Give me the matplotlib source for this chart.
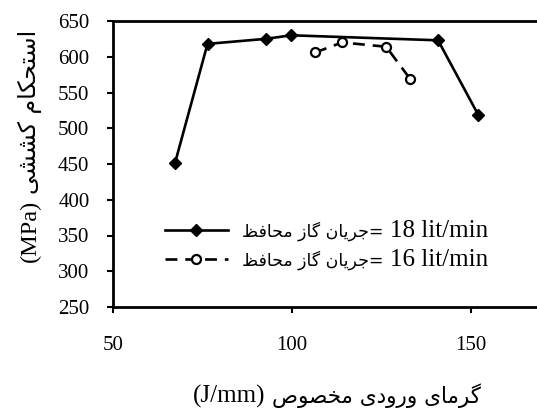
import matplotlib
matplotlib.use('Agg')
import matplotlib.pyplot as plt

###### datos
heat_18 = [67.3, 76.4, 92.6, 99.8, 140.8, 152.0]
tens_18 = [451, 618, 625, 630, 623, 519]
heat_16 = [106.5, 114.0, 126.3, 133.0]
tens_16 = [606, 620, 614, 569]
xticks = [50, 100, 150]
yticks = [250, 300, 350, 400, 450, 500, 550, 600, 650]

###### textos persas
txt_y = 'استحکام کششی'
txt_x = 'گرمای ورودی مخصوص'
txt_leg = 'جریان گاز محافظ'
flows = ['18 lit/min', '16 lit/min']

###### formas de presentacion (isolada, final, inicial, media)
FORMS = {
    'ا': ('\uFE8D', '\uFE8E', None, None),
    'ب': ('\uFE8F', '\uFE90', '\uFE91', '\uFE92'),
    'ت': ('\uFE95', '\uFE96', '\uFE97', '\uFE98'),
    'ج': ('\uFE9D', '\uFE9E', '\uFE9F', '\uFEA0'),
    'ح': ('\uFEA1', '\uFEA2', '\uFEA3', '\uFEA4'),
    'خ': ('\uFEA5', '\uFEA6', '\uFEA7', '\uFEA8'),
    'د': ('\uFEA9', '\uFEAA', None, None),
    'ر': ('\uFEAD', '\uFEAE', None, None),
    'ز': ('\uFEAF', '\uFEB0', None, None),
    'س': ('\uFEB1', '\uFEB2', '\uFEB3', '\uFEB4'),
    'ش': ('\uFEB5', '\uFEB6', '\uFEB7', '\uFEB8'),
    'ص': ('\uFEB9', '\uFEBA', '\uFEBB', '\uFEBC'),
    'ظ': ('\uFEC5', '\uFEC6', '\uFEC7', '\uFEC8'),
    'ف': ('\uFED1', '\uFED2', '\uFED3', '\uFED4'),
    'ل': ('\uFEDD', '\uFEDE', '\uFEDF', '\uFEE0'),
    'م': ('\uFEE1', '\uFEE2', '\uFEE3', '\uFEE4'),
    'ن': ('\uFEE5', '\uFEE6', '\uFEE7', '\uFEE8'),
    'و': ('\uFEED', '\uFEEE', None, None),
    'ی': ('\uFBFC', '\uFBFD', '\uFBFE', '\uFBFF'),
    'ک': ('\uFB8E', '\uFB8F', '\uFB90', '\uFB91'),
    'گ': ('\uFB92', '\uFB93', '\uFB94', '\uFB95'),
}


def farsi(s):
    # forma visual (de izquierda a derecha) del texto persa
    out = []
    for i, c in enumerate(s):
        if c not in FORMS:
            out.append(c)
            continue
        prev = s[i - 1] if i > 0 else ''
        nxt = s[i + 1] if i + 1 < len(s) else ''
        join_prev = prev in FORMS and FORMS[prev][2] is not None
        join_next = nxt in FORMS and FORMS[c][2] is not None
        f = FORMS[c]
        if join_prev and join_next:
            out.append(f[3])
        elif join_prev:
            out.append(f[1])
        elif join_next:
            out.append(f[2])
        else:
            out.append(f[0])
    return ''.join(out)[::-1]


plt.rcParams['font.family'] = ['Liberation Serif', 'DejaVu Sans']
plt.rcParams['font.size'] = 15

W, H = 537, 408
fig = plt.figure(figsize=(W / 100, H / 100), dpi=100)
ax = fig.add_axes([113 / W, 1 - 307 / H, 429.6 / W, 286 / H])

ax.plot(heat_18, tens_18, color='black', lw=1.9, marker='D', ms=6,
        label=farsi(txt_leg) + '=')
ax.plot(heat_16, tens_16, color='black', lw=1.9, ls=(0, (4.5, 3)),
        marker='o', ms=6.5, mfc='white', mew=1.6,
        label=farsi(txt_leg) + '=')

ax.set_xlim(50, 170)
ax.set_ylim(250, 650)
ax.set_xticks(xticks)
ax.set_yticks(yticks)
ax.tick_params(direction='out', length=4, width=1.5, pad=13)
ax.tick_params(axis='x', pad=17)
for s in ['left', 'bottom', 'top']:
    ax.spines[s].set_linewidth(2)
ax.spines['right'].set_visible(False)

###### leyenda: parte persa en la leyenda, caudal al lado
leg = ax.legend(loc='upper left', bbox_to_anchor=(165 / W, 1 - 221 / H),
                bbox_transform=fig.transFigure, frameon=False,
                prop={'family': 'DejaVu Sans', 'size': 12.5},
                handlelength=3.6, handletextpad=0.85, labelspacing=0.55,
                borderpad=0, borderaxespad=0)
fig.canvas.draw()
rend = fig.canvas.get_renderer()
for t, fl in zip(leg.get_texts(), flows):
    bb = t.get_window_extent(rend)
    fig.text((bb.x1 + 6) / W, (bb.y0 + bb.y1) / 2 / H, fl, fontsize=18,
             family='Liberation Serif', ha='left', va='center')

###### titulos de los ejes
xl1 = fig.text(193 / W, 5 / H, '(J/mm)', fontsize=18, family='Liberation Serif',
               ha='left', va='baseline')
bb = xl1.get_window_extent(rend)
fig.text((bb.x1 + 6) / W, 5 / H, farsi(txt_x), fontsize=15.5,
         family='DejaVu Sans', ha='left', va='baseline')

fig.text(36 / W, 1 - 231 / H, '(MPa)', fontsize=17.5, family='Liberation Serif',
         rotation=90, rotation_mode='anchor', ha='center', va='baseline')
fig.text(36 / W, 1 - 112 / H, farsi(txt_y), fontsize=17, family='DejaVu Sans',
         rotation=90, rotation_mode='anchor', ha='center', va='baseline')

fig.savefig('out.png', dpi=100)
